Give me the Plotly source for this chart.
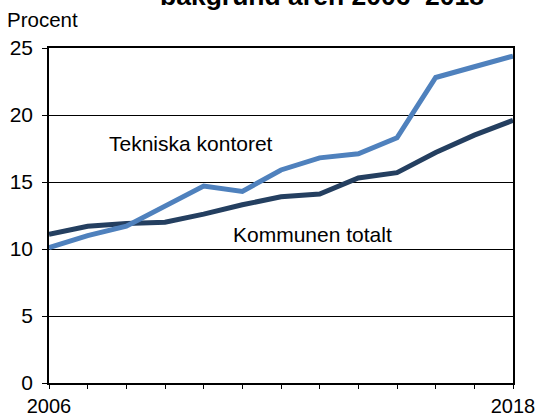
import plotly.graph_objects as go

FONT = 'Liberation Sans, Arial, sans-serif'

years = list(range(2006, 2019))
tekniska = [10.1, 11.0, 11.7, 13.2, 14.7, 14.3, 15.9, 16.8, 17.1, 18.3, 22.8, 23.6, 24.4]
kommunen = [11.1, 11.7, 11.9, 12.0, 12.6, 13.3, 13.9, 14.1, 15.3, 15.7, 17.2, 18.5, 19.6]
x_ticktext = ['2006'] + [''] * 11 + ['2018']

fig = go.Figure()
fig.add_trace(go.Scatter(x=years, y=kommunen, mode='lines', name='Kommunen totalt',
                         line=dict(color='#243f60', width=5), showlegend=False))
fig.add_trace(go.Scatter(x=years, y=tekniska, mode='lines', name='Tekniska kontoret',
                         line=dict(color='#4f81bd', width=5), showlegend=False))

# in-plot series labels
fig.add_annotation(x=2009.68, y=17.85, text='Tekniska kontoret', showarrow=False,
                   font=dict(family=FONT, size=21, color='black'))
fig.add_annotation(x=2012.82, y=11.1, text='Kommunen totalt', showarrow=False,
                   font=dict(family=FONT, size=21, color='black'))

# unit label and (cropped) title
fig.add_annotation(xref='paper', yref='paper', x=-0.095, y=1.085, xanchor='left',
                   yanchor='middle', text='Procent', showarrow=False,
                   font=dict(family=FONT, size=20.5, color='black'))
fig.add_annotation(xref='paper', yref='paper', x=0.588, y=1.105, xanchor='center',
                   yanchor='bottom', text='<b>bakgrund åren 2006–2018</b>', showarrow=False,
                   font=dict(family=FONT, size=26.5, color='black'))

fig.update_layout(
    width=538, height=416, autosize=False,
    margin=dict(l=49, r=25, t=48, b=33),
    plot_bgcolor='white', paper_bgcolor='white',
    font=dict(family=FONT, size=21, color='black'),
    xaxis=dict(range=[2006, 2018], tickvals=years, ticktext=x_ticktext,
               showgrid=False, zeroline=False, showline=True, linecolor='black',
               linewidth=1.5, mirror=True, ticks='outside', ticklen=4,
               tickcolor='black', tickwidth=1.2, automargin=False,
               tickfont=dict(family=FONT, size=20)),
    yaxis=dict(range=[0, 25], dtick=5, showgrid=True, gridcolor='black', gridwidth=1,
               zeroline=False, showline=True, linecolor='black', linewidth=1.5,
               mirror=True, ticks='outside', ticklen=5, tickcolor='black',
               tickwidth=1.2, ticklabelstandoff=5, automargin=False),
)

# drop the page's default 8px body margin so the figure sits at the window corner
fig.write_html('out.html', config={'displayModeBar': False},
               post_script="document.body.style.margin='0';")
